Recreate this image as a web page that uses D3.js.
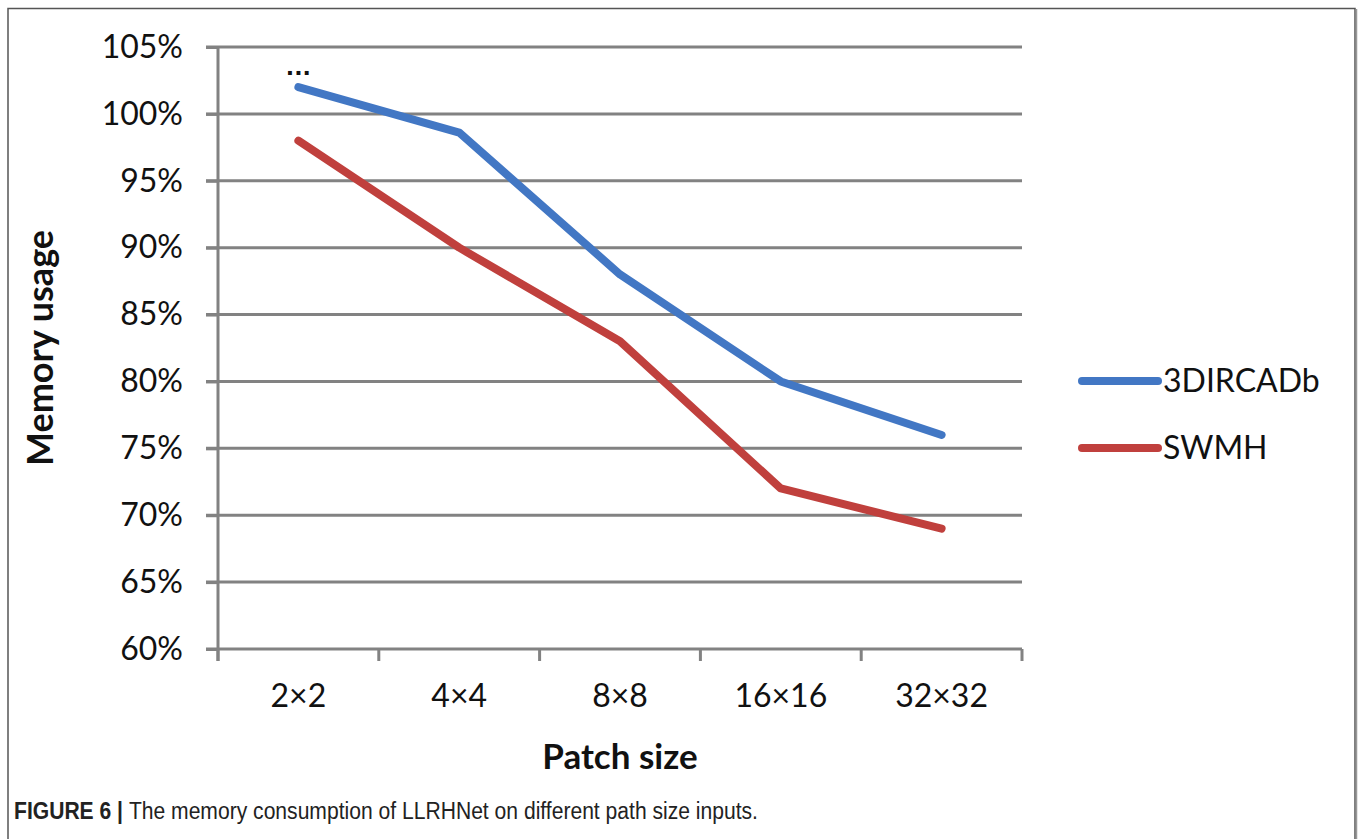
<!DOCTYPE html>
<html>
<head>
<meta charset="utf-8">
<script src="https://cdn.jsdelivr.net/npm/d3@7"></script>
<style>
  body { margin: 0; background: #fff; }
  svg { display: block; }
</style>
</head>
<body>
<div id="chart-area"></div>
<script>
// Data
var categories = ["2×2", "4×4", "8×8", "16×16", "32×32"];
var seriesNames = ["3DIRCADb", "SWMH"];
var ircadValues = [102, 98.6, 88, 80, 76];
var swmhValues = [98, 90, 83, 72, 69];
var yTicks = [60, 65, 70, 75, 80, 85, 90, 95, 100, 105];
var colors = ["#4277c4", "#c0403d"];

var W = 1358, H = 839;
var plot = { left: 218, right: 1022, top: 47, bottom: 649 };

var svg = d3.select("#chart-area")
  .append("svg")
    .attr("width", W)
    .attr("height", H);

// outer frame (no bottom edge, figure is cropped)
svg.append("path")
  .attr("d", "M8,839 L8,8.5 L1355,8.5 L1355,839")
  .attr("fill", "none")
  .attr("stroke", "#555")
  .attr("stroke-width", 1.5);
svg.append("line")
  .attr("x1", 1356.5).attr("x2", 1356.5).attr("y1", 9).attr("y2", H)
  .attr("stroke", "#999").attr("stroke-width", 1.5);

var x = d3.scaleBand()
  .domain(categories)
  .range([plot.left, plot.right]);

var y = d3.scaleLinear()
  .domain([60, 105])
  .range([plot.bottom, plot.top]);

var gridColor = "#828282";

// gridlines
svg.append("g")
  .selectAll("line")
  .data(yTicks)
  .enter()
  .append("line")
    .attr("x1", plot.left - 12)
    .attr("x2", plot.right)
    .attr("y1", function (d) { return y(d); })
    .attr("y2", function (d) { return y(d); })
    .attr("stroke", gridColor)
    .attr("stroke-width", 3);

// y axis
var yAxisCall = d3.axisLeft(y)
  .tickValues(yTicks)
  .tickSize(12)
  .tickPadding(23)
  .tickFormat(function (d) { return d + "%"; });

var yAxisGroup = svg.append("g")
  .attr("transform", "translate(" + plot.left + ",0)")
  .call(yAxisCall);
yAxisGroup.select(".domain").remove();
yAxisGroup.selectAll("line").attr("stroke", gridColor).attr("stroke-width", 3);
yAxisGroup.selectAll("text")
  .attr("font-family", "Lato, 'Open Sans', sans-serif")
  .attr("font-size", "32px")
  .attr("fill", "#111");

svg.append("line")
  .attr("x1", plot.left).attr("x2", plot.left)
  .attr("y1", plot.top).attr("y2", plot.bottom + 12)
  .attr("stroke", gridColor).attr("stroke-width", 3);

// x axis
var xAxisCall = d3.axisBottom(x)
  .tickSize(0)
  .tickPadding(35);

var xAxisGroup = svg.append("g")
  .attr("transform", "translate(0," + plot.bottom + ")")
  .call(xAxisCall);
xAxisGroup.select(".domain").remove();
xAxisGroup.selectAll("text")
  .attr("font-family", "Lato, 'Open Sans', sans-serif")
  .attr("font-size", "32px")
  .attr("fill", "#111");

// x ticks at category boundaries
var boundaries = categories.map(function (c) { return x(c); }).concat([x.range()[1]]);
svg.append("g")
  .selectAll("line")
  .data(boundaries)
  .enter()
  .append("line")
    .attr("x1", function (d) { return d; })
    .attr("x2", function (d) { return d; })
    .attr("y1", plot.bottom)
    .attr("y2", plot.bottom + 12)
    .attr("stroke", gridColor)
    .attr("stroke-width", 3);

// axis titles
svg.append("text")
  .attr("transform", "translate(53," + ((plot.top + plot.bottom) / 2) + ") rotate(-90)")
  .attr("text-anchor", "middle")
  .attr("font-family", "Lato, 'Open Sans', sans-serif")
  .attr("font-weight", "bold")
  .attr("font-size", "36px")
  .attr("fill", "#111")
  .text("Memory usage");

svg.append("text")
  .attr("x", (plot.left + plot.right) / 2)
  .attr("y", 769)
  .attr("text-anchor", "middle")
  .attr("font-family", "Lato, 'Open Sans', sans-serif")
  .attr("font-weight", "bold")
  .attr("font-size", "35px")
  .attr("fill", "#111")
  .text("Patch size");

// lines
var series = [ircadValues, swmhValues];
var line = d3.line()
  .x(function (d, i) { return x(categories[i]) + x.bandwidth() / 2; })
  .y(function (d) { return y(d); });

svg.append("g")
  .selectAll("path")
  .data(series)
  .enter()
  .append("path")
    .attr("d", line)
    .attr("fill", "none")
    .attr("stroke", function (d, i) { return colors[i]; })
    .attr("stroke-width", 8)
    .attr("stroke-linejoin", "round")
    .attr("stroke-linecap", "round");

// little "..." mark above first point
svg.append("text")
  .attr("x", x(categories[0]) + x.bandwidth() / 2)
  .attr("y", y(ircadValues[0]) - 12)
  .attr("text-anchor", "middle")
  .attr("font-family", "'DejaVu Sans', sans-serif")
  .attr("font-weight", "bold")
  .attr("font-size", "22px")
  .attr("fill", "#111")
  .text("...");

// legend
var legend = svg.append("g")
  .selectAll("g")
  .data(seriesNames)
  .enter()
  .append("g")
    .attr("transform", function (d, i) { return "translate(1078," + (381 + i * 67) + ")"; });

legend.append("line")
  .attr("x1", 4).attr("x2", 80)
  .attr("stroke", function (d, i) { return colors[i]; })
  .attr("stroke-width", 8)
  .attr("stroke-linecap", "round");

legend.append("text")
  .attr("x", 85)
  .attr("dy", "0.35em")
  .attr("font-family", "Lato, 'Open Sans', sans-serif")
  .attr("font-size", "32px")
  .attr("fill", "#111")
  .text(function (d) { return d; });

// caption (condensed face in the original, squeezed to its width)
var caption = svg.append("text")
  .attr("x", 14)
  .attr("y", 819)
  .attr("font-family", "'Liberation Sans Narrow', 'Liberation Sans', sans-serif")
  .attr("font-size", "23px")
  .attr("fill", "#222")
  .attr("textLength", 744)
  .attr("lengthAdjust", "spacingAndGlyphs");
caption.append("tspan").attr("font-weight", "bold").text("FIGURE 6 | ");
caption.append("tspan").text("The memory consumption of LLRHNet on different path size inputs.");
</script>
</body>
</html>
